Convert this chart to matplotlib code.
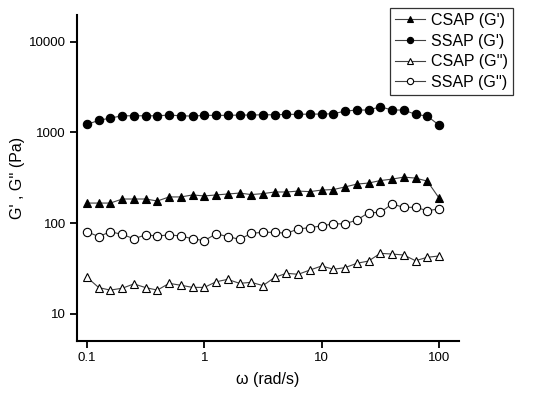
import numpy as np
import matplotlib
matplotlib.use("Agg")
import matplotlib.pyplot as plt
from matplotlib.ticker import FixedLocator, FixedFormatter, NullLocator

plt.rcParams["font.family"] = ["Liberation Sans", "DejaVu Sans"]

# angular frequency, 10 points per decade
omega = [0.1, 0.126, 0.158, 0.2, 0.251, 0.316, 0.398, 0.501, 0.631, 0.794,
         1.0, 1.26, 1.58, 2.0, 2.51, 3.16, 3.98, 5.01, 6.31, 7.94,
         10.0, 12.6, 15.8, 20.0, 25.1, 31.6, 39.8, 50.1, 63.1, 79.4, 100.0]

csap_g1 = [166, 166, 166, 184, 184, 184, 175, 194, 194, 204,
           199, 204, 209, 214, 206, 211, 220, 220, 225, 222,
           231, 234, 250, 269, 276, 294, 305, 321, 313, 290, 189]
ssap_g1 = [1225, 1356, 1438, 1524, 1524, 1524, 1524, 1552, 1524, 1512,
           1540, 1540, 1540, 1552, 1552, 1563, 1563, 1580, 1580, 1591,
           1591, 1604, 1717, 1763, 1763, 1916, 1763, 1763, 1580, 1512, 1203]
csap_g2 = [25.2, 19.4, 18.2, 19.1, 21.3, 19.4, 18.2, 21.6, 20.6, 19.5,
           19.5, 22.5, 23.9, 21.6, 22.2, 20.4, 25.2, 27.9, 27.2, 30.3,
           33.6, 30.9, 32.2, 36.0, 38.1, 46.3, 45.5, 44.4, 38.4, 41.9, 43.3]
ssap_g2 = [80, 71, 80, 75, 67, 74, 72, 74, 72, 67,
           64, 76, 71, 66, 77, 79, 79, 77, 86, 89,
           93, 98, 98, 108, 130, 131, 162, 149, 149, 137, 143]

x_ticks = [0.1, 1, 10, 100]
x_labels = ["0.1", "1", "10", "100"]
y_ticks = [10, 100, 1000, 10000]
y_labels = ["10", "100", "1000", "10000"]

fig = plt.figure(figsize=(5.5, 3.99), dpi=100)
ax = fig.add_axes([0.14, 0.1454, 0.6945, 0.817])

line_kw = dict(color="#404040", lw=0.8, markersize=6, markeredgecolor="black",
               markeredgewidth=0.8)
ax.plot(omega, csap_g1, marker="^", markerfacecolor="black", label="CSAP (G')", **line_kw)
ax.plot(omega, ssap_g1, marker="o", markerfacecolor="black", label="SSAP (G')", **line_kw)
ax.plot(omega, csap_g2, marker="^", markerfacecolor="white", label="CSAP (G'')", **line_kw)
ax.plot(omega, ssap_g2, marker="o", markerfacecolor="white", label="SSAP (G'')", **line_kw)

ax.set_xscale("log")
ax.set_yscale("log")
ax.set_xlim(0.0822, 148)
ax.set_ylim(5.0, 19700)

ax.xaxis.set_major_locator(FixedLocator(x_ticks))
ax.xaxis.set_major_formatter(FixedFormatter(x_labels))
ax.xaxis.set_minor_locator(NullLocator())
ax.yaxis.set_major_locator(FixedLocator(y_ticks))
ax.yaxis.set_major_formatter(FixedFormatter(y_labels))
ax.yaxis.set_minor_locator(NullLocator())

for side in ["top", "right"]:
    ax.spines[side].set_visible(False)
for side in ["left", "bottom"]:
    ax.spines[side].set_linewidth(1.5)
ax.tick_params(direction="out", length=5, width=1.3, labelsize=9.5, pad=3)

ax.set_xlabel("ω (rad/s)", fontsize=11.5, labelpad=6)
ax.set_ylabel("G' , G'' (Pa)", fontsize=11.5, labelpad=3)

leg = fig.legend(loc="upper right", bbox_to_anchor=(0.933, 0.98), fontsize=11.5,
                 frameon=True, fancybox=False, edgecolor="black",
                 markerscale=0.75, handlelength=1.9, handletextpad=0.4,
                 borderpad=0.3, labelspacing=0.36, borderaxespad=0)
leg.get_frame().set_linewidth(0.9)

fig.savefig("out.png", dpi=100)
